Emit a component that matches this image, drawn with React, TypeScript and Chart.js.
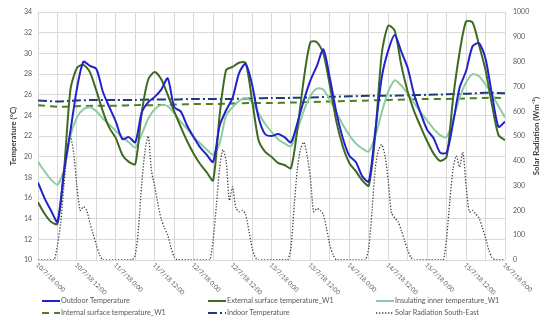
import { useEffect, useRef } from "react";
import { Chart, registerables } from "chart.js";
Chart.register(...registerables);

// time axis (hours since 10/7/18 0:00)
const hours2 = Array.from({ length: 73 }, (_, i) => i * 2);
const hours1 = Array.from({ length: 145 }, (_, i) => i);
const hours6 = Array.from({ length: 25 }, (_, i) => i * 6);

const xTickHours = [0, 12, 24, 36, 48, 60, 72, 84, 96, 108, 120, 132, 144];
const xTickLabels = [
  "10/7/18 0:00", "10/7/18 12:00", "11/7/18 0:00", "11/7/18 12:00",
  "12/7/18 0:00", "12/7/18 12:00", "13/7/18 0:00", "13/7/18 12:00",
  "14/7/18 0:00", "14/7/18 12:00", "15/7/18 0:00", "15/7/18 12:00",
  "16/7/18 0:00",
];

const outdoorTemp = [
  17.5, 16.0, 14.8, 13.7, 18.5, 22.5, 26.6, 29.2, 28.8, 28.5, 26.3, 24.8, 23.4, 21.7, 21.9, 21.4, 24.3, 25.3, 25.8,
  26.5, 27.6, 24.8, 24.4, 23.0, 21.9, 20.9, 20.2, 19.5, 23.0, 24.5, 25.7, 28.1, 29.0, 27.0, 23.8, 22.2, 22.0,
  22.2, 21.9, 21.4, 23.3, 25.5, 27.4, 28.8, 30.4, 27.6, 24.3, 21.8, 20.1, 19.5, 18.1, 17.6, 22.5, 27.7, 30.3, 31.8,
  30.2, 28.6, 26.0, 24.2, 22.6, 21.8, 20.4, 20.4, 23.3, 26.7, 28.3, 30.7, 31.0, 29.5, 26.0, 22.9, 23.4,
];

const externalSurface = [
  15.6, 14.5, 13.7, 13.5, 18.6, 26.5, 28.6, 28.9, 28.2, 26.4, 24.4, 22.8, 21.8, 20.2, 19.5, 19.3, 24.3, 27.5, 28.2,
  27.5, 26.0, 24.4, 22.9, 21.5, 20.3, 19.3, 18.5, 17.7, 24.0, 28.4, 28.7, 29.1, 29.1, 25.5, 21.6, 20.5, 20.0,
  19.4, 19.2, 18.9, 22.7, 27.6, 31.1, 31.1, 30.0, 26.9, 23.4, 21.0, 19.4, 18.6, 17.7, 17.2, 22.2, 30.0, 32.7, 32.2,
  28.9, 26.3, 24.4, 22.9, 21.5, 20.3, 19.6, 20.0, 25.7, 30.1, 33.1, 33.0, 30.8, 28.4, 25.0, 22.1, 21.6,
];

const insulatingInner = [
  19.5, 18.6, 17.8, 17.3, 18.7, 22.0, 23.8, 24.6, 24.8, 24.4, 23.7, 23.1, 22.5, 21.9, 21.4, 20.9, 22.2, 23.7, 24.6,
  25.0, 24.9, 24.2, 23.4, 22.7, 21.9, 21.3, 20.7, 20.2, 21.3, 24.0, 24.8, 25.4, 25.7, 25.3, 24.2, 23.2, 22.4,
  21.7, 21.3, 21.0, 22.6, 24.5, 25.9, 26.6, 26.5, 25.5, 24.3, 23.1, 22.1, 21.3, 20.8, 20.5, 22.0, 24.3, 26.3, 27.4,
  26.9, 26.1, 25.2, 24.3, 23.5, 22.7, 22.1, 21.9, 23.6, 25.7, 27.2, 28.0, 27.8, 27.0, 26.0, 24.9, 23.8,
];

const internalSurface = [
  25.0, 24.85, 24.9, 24.95, 24.95, 25.0, 25.0, 25.05, 25.1, 25.1, 25.15, 25.2, 25.2,
  25.25, 25.3, 25.35, 25.4, 25.45, 25.5, 25.55, 25.6, 25.6, 25.65, 25.7, 25.7,
];

const indoorTemp = [
  25.45, 25.35, 25.45, 25.5, 25.5, 25.5, 25.55, 25.55, 25.6, 25.6, 25.6, 25.65, 25.7,
  25.7, 25.75, 25.8, 25.85, 25.9, 25.9, 25.95, 26.0, 26.05, 26.1, 26.2, 26.15,
];

const solarRadiation = [
  0, 0, 0, 0, 0, 0, 60, 150, 300, 440, 500, 430, 300, 200, 215, 200, 150, 105, 60, 20, 0,
  0, 0, 0, 0, 0, 0, 0, 0, 0,
  20, 130, 310, 440, 500, 360, 295, 225, 165, 130, 100, 50, 12, 0,
  0, 0, 0, 0, 0, 0, 0, 0, 0, 0,
  80, 220, 370, 445, 400, 240, 295, 210, 195, 200, 185, 120, 50, 10, 0,
  0, 0, 0, 0, 0, 0, 0, 0, 0,
  50, 220, 370, 450, 475, 420, 330, 195, 208, 200, 183, 125, 60, 20, 0,
  0, 0, 0, 0, 0, 0, 0, 0, 0,
  50, 200, 370, 445, 465, 420, 320, 190, 170, 155, 120, 80, 40, 10, 0,
  0, 0, 0, 0, 0, 0, 0, 0, 0,
  90, 240, 370, 420, 375, 435, 300, 195, 200, 185, 170, 130, 90, 40, 10, 0, 0, 0, 0,
];

const FONT = "Lato, 'Liberation Sans', sans-serif";
const TXT = "#595959";
const GRID = "#d9d9d9";

const zip = (xs: number[], ys: number[]) => ys.map((y, i) => ({ x: xs[i], y }));

const overlay = {
  id: "overlay",
  afterDraw(chart: any) {
    const ctx = chart.ctx as CanvasRenderingContext2D;
    const xs = chart.scales.x;
    const area = chart.chartArea;
    ctx.save();
    ctx.fillStyle = TXT;
    // rotated x tick labels
    ctx.font = `6.3px ${FONT}`;
    xTickHours.forEach((h, i) => {
      const px = xs.getPixelForValue(h);
      ctx.save();
      ctx.translate(px - 1, area.bottom + 4);
      ctx.rotate(Math.PI / 4);
      ctx.textAlign = "left";
      ctx.textBaseline = "middle";
      ctx.fillText(xTickLabels[i], 0, 0);
      ctx.restore();
    });
    // axis titles
    ctx.font = `bold 7.8px ${FONT}`;
    ctx.fillStyle = "#404040";
    ctx.save();
    ctx.translate(13, (area.top + area.bottom) / 2);
    ctx.rotate(-Math.PI / 2);
    ctx.textAlign = "center";
    ctx.textBaseline = "middle";
    ctx.fillText("Temperature (°C)", 0, 0);
    ctx.restore();
    ctx.save();
    ctx.translate(536, (area.top + area.bottom) / 2);
    ctx.rotate(-Math.PI / 2);
    ctx.textAlign = "center";
    ctx.textBaseline = "middle";
    ctx.fillText("Solar Radiation (Wm⁻²)", 0, 0);
    ctx.restore();
    // legend
    const colX = [42, 208, 376];
    const rowY = [301, 313];
    ctx.font = `7.2px ${FONT}`;
    chart.data.datasets.forEach((ds: any, i: number) => {
      const cx = colX[i % 3];
      const cy = rowY[Math.floor(i / 3)];
      ctx.save();
      ctx.strokeStyle = ds.borderColor;
      ctx.lineWidth = ds.borderWidth;
      ctx.setLineDash(ds.borderDash || []);
      ctx.beginPath();
      ctx.moveTo(cx, cy);
      ctx.lineTo(cx + 18, cy);
      ctx.stroke();
      ctx.restore();
      ctx.fillStyle = TXT;
      ctx.textAlign = "left";
      ctx.textBaseline = "middle";
      ctx.fillText(ds.label, cx + 19, cy);
    });
    ctx.restore();
  },
};

export default function App() {
  const ref = useRef<HTMLCanvasElement>(null);
  useEffect(() => {
    if (!ref.current) return;
    const chart = new Chart(ref.current, {
      type: "line",
      data: {
        datasets: [
          {
            label: "Outdoor Temperature",
            data: zip(hours2, outdoorTemp),
            borderColor: "#2222cc",
            borderWidth: 2,
            yAxisID: "y",
            order: 1,
          },
          {
            label: "External surface temperature_W1",
            data: zip(hours2, externalSurface),
            borderColor: "#3f6a22",
            borderWidth: 2,
            yAxisID: "y",
            order: 2,
          },
          {
            label: "Insulating inner temperature_W1",
            data: zip(hours2, insulatingInner),
            borderColor: "#8ccca0",
            borderWidth: 2,
            yAxisID: "y",
            order: 3,
          },
          {
            label: "Internal surface temperature_W1",
            data: zip(hours6, internalSurface),
            borderColor: "#4f7f1f",
            borderWidth: 2,
            borderDash: [7, 5],
            yAxisID: "y",
            order: 4,
          },
          {
            label: "Indoor Temperature",
            data: zip(hours6, indoorTemp),
            borderColor: "#1f3c78",
            borderWidth: 2,
            borderDash: [9, 3, 2, 3],
            yAxisID: "y",
            order: 5,
          },
          {
            label: "Solar Radiation South-East",
            data: zip(hours1, solarRadiation),
            borderColor: "#404040",
            borderWidth: 1.3,
            borderDash: [1.3, 1.7],
            yAxisID: "y1",
            order: 6,
          },
        ] as any,
      },
      options: {
        animation: false,
        responsive: false,
        devicePixelRatio: 1,
        elements: { point: { radius: 0 }, line: { tension: 0.25 } },
        layout: { padding: { top: 11, bottom: 69, left: 0, right: 0 } },
        plugins: { legend: { display: false }, tooltip: { enabled: false } },
        scales: {
          x: {
            type: "linear",
            min: 0,
            max: 144,
            ticks: { display: false, stepSize: 6 },
            grid: { color: GRID, drawTicks: false },
            border: { display: false },
            afterFit: (s: any) => {
              s.height = 0;
            },
          },
          y: {
            position: "left",
            min: 10,
            max: 34,
            ticks: { stepSize: 2, color: TXT, font: { size: 7, family: FONT }, padding: 6 },
            grid: { color: GRID, drawTicks: false },
            border: { display: false },
            afterFit: (s: any) => {
              s.width = 38;
            },
          },
          y1: {
            position: "right",
            min: 0,
            max: 1000,
            ticks: {
              stepSize: 100,
              color: TXT,
              font: { size: 7, family: FONT },
              padding: 8,
              callback: (v: any) => String(v),
            },
            grid: { display: false, drawTicks: false },
            border: { display: false },
            afterFit: (s: any) => {
              s.width = 45;
            },
          },
        },
      } as any,
      plugins: [overlay],
    });
    return () => chart.destroy();
  }, []);
  return (
    <div style={{ position: "fixed", left: 0, top: 0, width: 550, height: 329, background: "#fff" }}>
      <canvas ref={ref} width={550} height={329} />
    </div>
  );
}
